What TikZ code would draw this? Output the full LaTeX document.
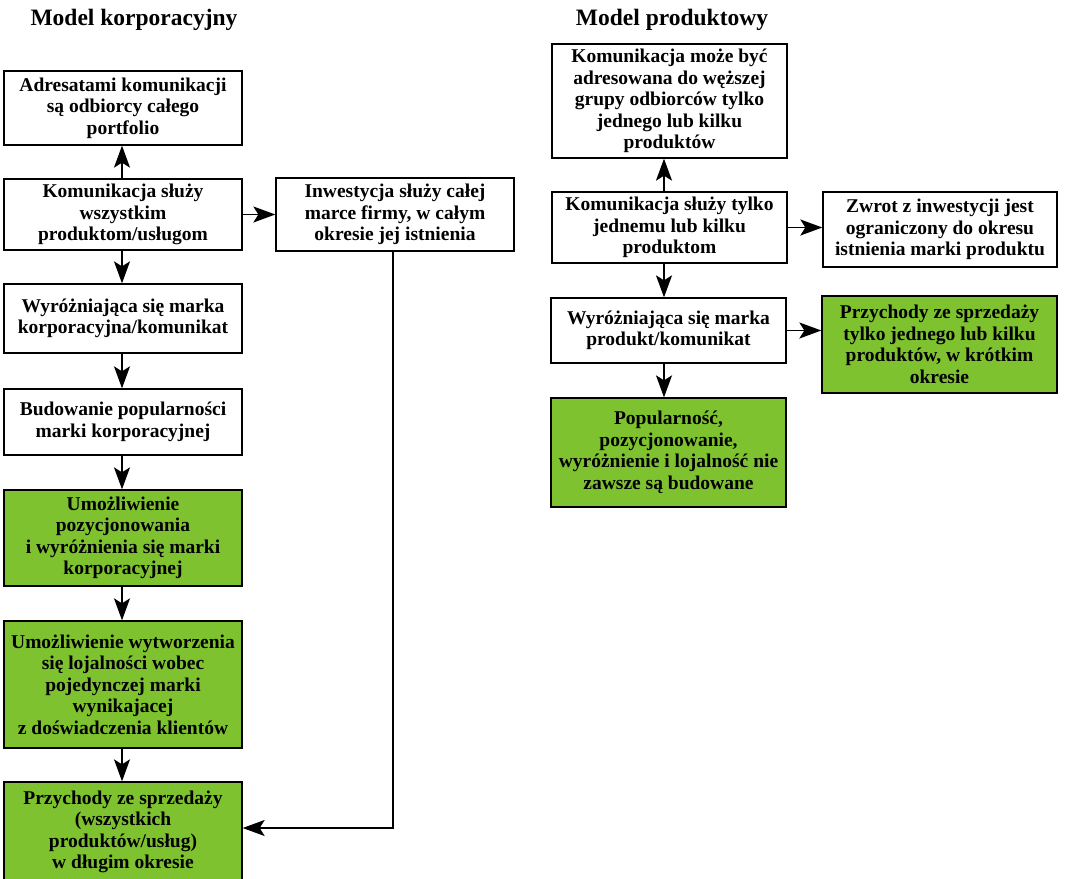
\documentclass[tikz,border=0pt]{standalone}
\usepackage{fontspec}
\setmainfont{Liberation Serif}
\usetikzlibrary{arrows.meta,positioning}
\definecolor{boxgreen}{RGB}{126,194,48}
\tikzset{
  box/.style={draw=black, line width=1.3pt, fill=white, align=center,
    font=\bfseries\fontsize{19.5}{21.5}\selectfont, inner sep=1pt},
  gbox/.style={box, fill=boxgreen},
  arr/.style={line width=1.7pt, -{Stealth[length=22pt,width=16pt,inset=5pt]}},
  ttl/.style={font=\bfseries\fontsize{23.5}{27}\selectfont}
}
\begin{document}
\begin{tikzpicture}[x=1pt,y=-1pt]
\useasboundingbox (0,0) rectangle (1068,878);
\node[ttl] (t1) at (134,20) {Model korporacyjny};
\node[ttl] (t2) at (672,20) {Model produktowy};
% left column
\node[box, minimum width=238pt, minimum height=74pt] (a1) at (123,108) {Adresatami komunikacji\\są odbiorcy całego\\portfolio};
\node[box, minimum width=238pt, minimum height=71pt] (a2) at (123,214.5) {Komunikacja służy\\wszystkim\\produktom/usługom};
\node[box, minimum width=238pt, minimum height=69pt] (a3) at (123,318.5) {Wyróżniająca się marka\\korporacyjna/komunikat};
\node[box, minimum width=238pt, minimum height=66pt] (a4) at (123,422) {Budowanie popularności\\marki korporacyjnej};
\node[gbox, minimum width=238pt, minimum height=96pt] (a5) at (123,538) {Umożliwienie\\pozycjonowania\\i wyróżnienia się marki\\korporacyjnej};
\node[gbox, minimum width=238pt, minimum height=127pt] (a6) at (123,684.5) {Umożliwienie wytworzenia\\się lojalności wobec\\pojedynczej marki\\wynikajacej\\z doświadczenia klientów};
\node[gbox, minimum width=238pt, minimum height=100pt] (a7) at (123,832) {Przychody ze sprzedaży\\(wszystkich\\produktów/usług)\\w długim okresie};
\node[box, minimum width=238pt, minimum height=73pt] (b) at (395,214.5) {Inwestycja służy całej\\marce firmy, w całym\\okresie jej istnienia};
% right column
\node[box, minimum width=235pt, minimum height=114pt] (p1) at (669.5,101) {Komunikacja może być\\adresowana do węższej\\grupy odbiorców tylko\\jednego lub kilku\\produktów};
\node[box, minimum width=235pt, minimum height=71pt] (p2) at (669.5,227.5) {Komunikacja służy tylko\\jednemu lub kilku\\produktom};
\node[box, minimum width=234pt, minimum height=75pt] (p3) at (940,229.5) {Zwrot z inwestycji jest\\ograniczony do okresu\\istnienia marki produktu};
\node[box, minimum width=235pt, minimum height=65pt] (p4) at (668.5,330.5) {Wyróżniająca się marka\\produkt/komunikat};
\node[gbox, minimum width=235pt, minimum height=97pt] (p5) at (939.5,344.5) {Przychody ze sprzedaży\\tylko jednego lub kilku\\produktów, w krótkim\\okresie};
\node[gbox, minimum width=235pt, minimum height=109pt] (p6) at (668.5,452.5) {Popularność,\\pozycjonowanie,\\wyróżnienie i lojalność nie\\zawsze są budowane};
\coordinate (lc) at (122,0);
\coordinate (rc) at (664,0);
\coordinate (bc) at (393,0);
\coordinate (turn) at (393,828);
% left arrows
\draw[arr] (a2.north -| lc) -- (a1.south -| lc);
\draw[arr] (a2.south -| lc) -- (a3.north -| lc);
\draw[arr] (a3.south -| lc) -- (a4.north -| lc);
\draw[arr] (a4.south -| lc) -- (a5.north -| lc);
\draw[arr] (a5.south -| lc) -- (a6.north -| lc);
\draw[arr] (a6.south -| lc) -- (a7.north -| lc);
\draw[arr] (a2.east) -- (b.west);
\draw[arr] (b.south -| bc) -- (turn) -- (a7.east |- turn);
% right arrows
\draw[arr] (p2.north -| rc) -- (p1.south -| rc);
\draw[arr] (p2.east) -- (p3.west |- p2.east);
\draw[arr] (p2.south -| rc) -- (p4.north -| rc);
\draw[arr] (p4.east) -- (p5.west |- p4.east);
\draw[arr] (p4.south -| rc) -- (p6.north -| rc);
\end{tikzpicture}
\end{document}
